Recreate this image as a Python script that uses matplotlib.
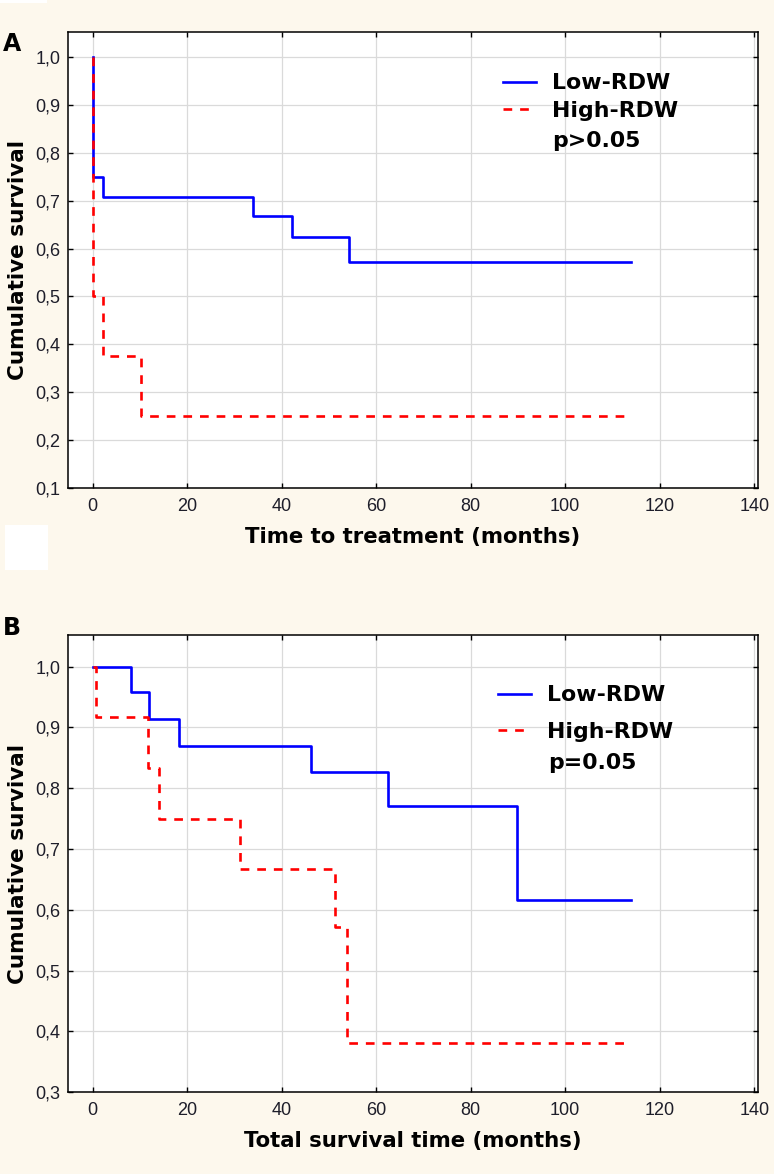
import matplotlib
matplotlib.use("Agg")
import matplotlib.pyplot as plt
from matplotlib.patches import Rectangle
from matplotlib.ticker import FuncFormatter, MultipleLocator

# Panel A: time to treatment (Kaplan-Meier steps)
a_low_t = [0, 0, 2.2, 34, 42.2, 54.3, 114]
a_low_s = [1.0, 0.75, 0.708, 0.667, 0.625, 0.571, 0.571]
a_high_t = [0, 0, 2.1, 10.2, 114]
a_high_s = [1.0, 0.5, 0.375, 0.25, 0.25]

# Panel B: total survival time
b_low_t = [0, 8.1, 12, 18.3, 46.2, 62.5, 89.8, 114]
b_low_s = [1.0, 0.958, 0.913, 0.870, 0.826, 0.771, 0.616, 0.616]
b_high_t = [0, 0.8, 11.8, 14.1, 31.1, 51.2, 53.8, 113.5]
b_high_s = [1.0, 0.917, 0.833, 0.75, 0.667, 0.571, 0.381, 0.381]

series_names = ["Low-RDW", "High-RDW"]
x_ticks = [0, 20, 40, 60, 80, 100, 120, 140]

BG = "#fdf8ed"
BOLD = dict(family="DejaVu Sans", weight="bold")

fig = plt.figure(figsize=(7.74, 11.74), dpi=100, facecolor=BG)

# small white blocks visible in the scanned figure margin
for (x0, y0, w, h) in [(0, 0, 47, 3), (5, 525, 43, 45)]:
    fig.patches.append(Rectangle((x0 / 774, 1 - (y0 + h) / 1174), w / 774, h / 1174,
                                 transform=fig.transFigure, facecolor="white",
                                 edgecolor="none", zorder=0))

axA = fig.add_axes([0.0879, 0.5843, 0.8915, 0.3884])
axB = fig.add_axes([0.0879, 0.0698, 0.8915, 0.3893])


def style(ax, ymin, xlabel):
    ax.set_facecolor("white")
    ax.set_xlim(-5.2, 140.8)
    ax.set_ylim(ymin, 1.052)
    ax.set_xticks(x_ticks)
    ax.yaxis.set_major_locator(MultipleLocator(0.1))
    ax.yaxis.set_major_formatter(FuncFormatter(lambda v, p: f"{v:.1f}".replace(".", ",")))
    ax.grid(True, color="#dadada", linewidth=0.9)
    ax.set_axisbelow(True)
    for s in ax.spines.values():
        s.set_linewidth(1.1)
    ax.tick_params(direction="in", length=3.5, width=1, top=True, right=True,
                   labelsize=13, labelcolor="#1e1e2a")
    ax.tick_params(axis="x", pad=7)
    ax.tick_params(axis="y", pad=5.5)
    for lab in ax.get_xticklabels() + ax.get_yticklabels():
        lab.set_family("Liberation Sans")
    ax.set_xlabel(xlabel, fontsize=15.3, labelpad=9, **BOLD)
    ax.set_ylabel("Cumulative survival", fontsize=15.5, labelpad=5, **BOLD)


style(axA, 0.1, "Time to treatment (months)")
style(axB, 0.3, "Total survival time (months)")

for ax, (lt, ls, ht, hs) in [(axA, (a_low_t, a_low_s, a_high_t, a_high_s)),
                             (axB, (b_low_t, b_low_s, b_high_t, b_high_s))]:
    ax.step(lt, ls, where="post", color="#0000ff", linewidth=1.9,
            label=series_names[0], zorder=3)
    ax.step(ht, hs, where="post", color="#ff0000", linewidth=1.9,
            dashes=(3.3, 3.0), label=series_names[1], zorder=4)

# legends (frameless) plus the p-value text under them
axA.legend(loc="center left", bbox_to_anchor=(0.630, 0.857), frameon=False,
           borderpad=0, borderaxespad=0, handlelength=1.5, handletextpad=0.73,
           labelspacing=0.35, prop=dict(size=15.8, **BOLD))
axA.text(0.701, 0.761, "p>0.05", transform=axA.transAxes, va="center", ha="left",
         fontsize=15.8, **BOLD)

axB.legend(loc="center left", bbox_to_anchor=(0.623, 0.828), frameon=False,
           borderpad=0, borderaxespad=0, handlelength=1.5, handletextpad=0.73,
           labelspacing=0.75, prop=dict(size=15.8, **BOLD))
axB.text(0.696, 0.720, "p=0.05", transform=axB.transAxes, va="center", ha="left",
         fontsize=15.8, **BOLD)

# panel letters
fig.text(3 / 774, 1 - 44 / 1174, "A", va="center", ha="left", fontsize=17, **BOLD)
fig.text(3 / 774, 1 - 628 / 1174, "B", va="center", ha="left", fontsize=17, **BOLD)

fig.savefig("out.png", dpi=100, facecolor=fig.get_facecolor())
